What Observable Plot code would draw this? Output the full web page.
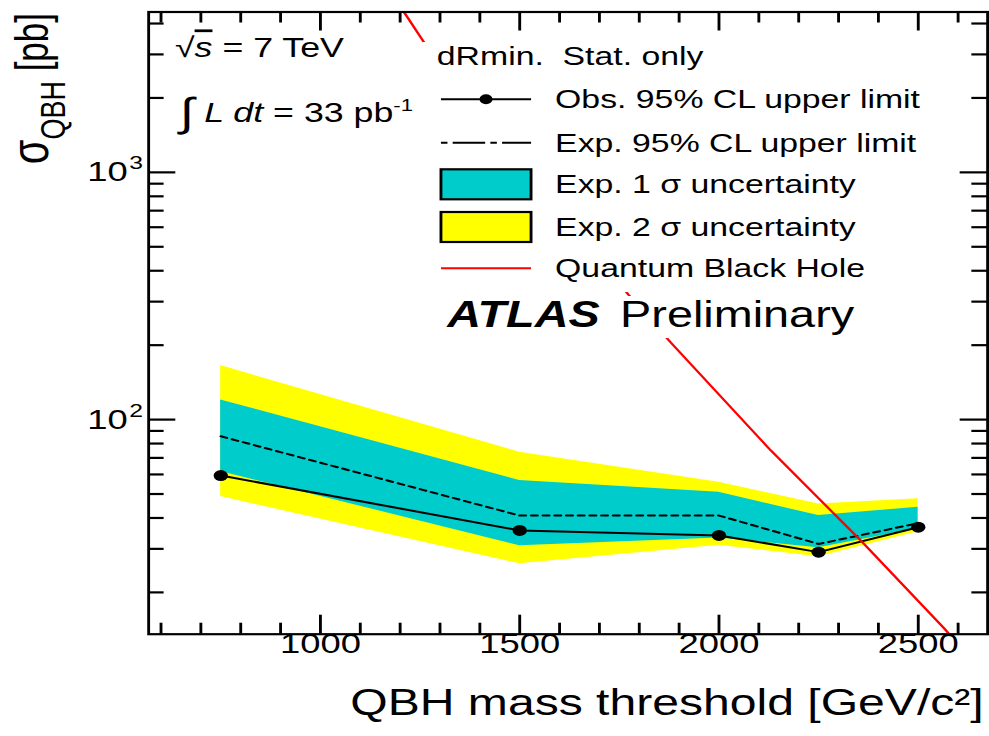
<!DOCTYPE html>
<html><head><meta charset="utf-8">
<script src="https://cdn.jsdelivr.net/npm/d3@7"></script>
<script src="https://cdn.jsdelivr.net/npm/@observablehq/plot@0.6"></script>
<style>
html,body{margin:0;padding:0;background:#fff;overflow:hidden;}
#chart{width:989px;height:736px;position:relative;overflow:hidden;}
#chart svg{transform:scale(1.3,1);transform-origin:0 0;display:block;max-width:none;}
</style></head><body><div id="chart"></div>
<script>
// ---- data ----
const massThresholds = [750, 1500, 2000, 2250, 2500];
const observedLimit  = [59.4, 35.6, 34.0, 29.1, 36.7];
const expectedLimit  = [85.6, 40.9, 40.9, 31.4, 38.1];
const exp1SigmaLow   = [61.6, 30.9, 33.2, 30.3, 36.2];
const exp1SigmaHigh  = [120.1, 56.7, 50.8, 40.9, 44.2];
const exp2SigmaLow   = [48.8, 26.1, 31.0, 27.9, 35.2];
const exp2SigmaHigh  = [165.4, 73.8, 55.8, 45.6, 47.8];

const qbhMass  = [1210, 1260, 1773, 1879, 2130, 2356, 2565, 2577];
const qbhSigma = [4440, 3355, 320, 205, 75, 32.4, 14.3, 13.6];

const xMajorTicks = [1000, 1500, 2000, 2500];
const xMinorTicks = [600, 700, 800, 900, 1100, 1200, 1300, 1400, 1600, 1700, 1800, 1900, 2100, 2200, 2300, 2400, 2600];
const yMajorTicks = [100, 1000];
const yMinorTicks = [20, 30, 40, 50, 60, 70, 80, 90, 200, 300, 400, 500, 600, 700, 800, 900, 2000, 3000, 4000];

const legendLabels = ["Obs. 95% CL upper limit", "Exp. 95% CL upper limit", "Exp. 1 \u03C3 uncertainty", "Exp. 2 \u03C3 uncertainty", "Quantum Black Hole"];

// ---- tables ----
const limits = massThresholds.map((m, i) => ({
  mass: m, obs: observedLimit[i], exp: expectedLimit[i],
  lo1: exp1SigmaLow[i], hi1: exp1SigmaHigh[i], lo2: exp2SigmaLow[i], hi2: exp2SigmaHigh[i]
}));
const qbh = qbhMass.map((m, i) => ({mass: m, sigma: qbhSigma[i]}));

// ---- layout (drawn narrow, then stretched horizontally like the reference) ----
const W = 761, H = 736;
const mL = 113.85, mR = 1.8, mT = 11.5, mB = 102.3;
const innerW = W - mL - mR, innerH = H - mT - mB;
const font = "Liberation Sans, Arial, Helvetica, sans-serif";
const lw = 2.2;

const svgNode = Plot.plot({
  width: W, height: H,
  marginLeft: mL, marginRight: mR, marginTop: mT, marginBottom: mB,
  style: {fontFamily: font, background: "white", color: "black"},
  x: {domain: [569, 2674], axis: null},
  y: {type: "log", domain: [13.55, 4453], axis: null},
  marks: [
    Plot.areaY(limits, {x: "mass", y1: "lo2", y2: "hi2", fill: "#ffff00"}),
    Plot.areaY(limits, {x: "mass", y1: "lo1", y2: "hi1", fill: "#00cccc"}),
    Plot.line(limits, {x: "mass", y: "exp", stroke: "black", strokeWidth: 2, strokeDasharray: "5,4"}),
    Plot.line(limits, {x: "mass", y: "obs", stroke: "black", strokeWidth: 2}),
    Plot.dot(limits, {x: "mass", y: "obs", r: 5.5, fill: "black"}),
    Plot.line(qbh, {x: "mass", y: "sigma", stroke: "#ff0000", strokeWidth: 2, clip: true}),
    // ticks (inside the frame, all four sides)
    Plot.ruleX(xMinorTicks, {x: d => d, insetTop: innerH - 11, stroke: "black", strokeWidth: lw}),
    Plot.ruleX(xMajorTicks, {x: d => d, insetTop: innerH - 19, stroke: "black", strokeWidth: lw}),
    Plot.ruleX(xMinorTicks, {x: d => d, insetBottom: innerH - 11, stroke: "black", strokeWidth: lw}),
    Plot.ruleX(xMajorTicks, {x: d => d, insetBottom: innerH - 19, stroke: "black", strokeWidth: lw}),
    Plot.ruleY(yMinorTicks, {y: d => d, insetRight: innerW - 12, stroke: "black", strokeWidth: lw}),
    Plot.ruleY(yMajorTicks, {y: d => d, insetRight: innerW - 21, stroke: "black", strokeWidth: lw}),
    Plot.ruleY(yMinorTicks, {y: d => d, insetLeft: innerW - 12, stroke: "black", strokeWidth: lw}),
    Plot.ruleY(yMajorTicks, {y: d => d, insetLeft: innerW - 21, stroke: "black", strokeWidth: lw}),
    Plot.frame({stroke: "black", strokeWidth: lw}),
    // tick labels
    Plot.text(xMajorTicks, {x: d => d, text: d => String(d), frameAnchor: "bottom", dy: 18.3, fontSize: 28, fill: "black"}),
    Plot.text(yMajorTicks, {y: d => d, text: () => "10", frameAnchor: "left", dx: -16, textAnchor: "end", fontSize: 28, fill: "black"}),
    Plot.text(yMajorTicks, {y: d => d, text: d => String(Math.round(Math.log10(d))), frameAnchor: "left", dx: -15, dy: -9, textAnchor: "start", fontSize: 19, fill: "black"}),
    // x axis title
    Plot.text(["QBH mass threshold [GeV/c\u00B2]"], {text: d => d, frameAnchor: "bottom-right", dx: -3, dy: 81, textAnchor: "end", fontSize: 37, fill: "black"})
  ]
});
document.getElementById("chart").appendChild(svgNode);

const svg = d3.select(svgNode);
const g = svg.append("g").attr("font-family", font).attr("fill", "black").attr("text-anchor", "start");

// y axis title
const yt = g.append("text").attr("transform", "translate(37,13) rotate(-90)").attr("text-anchor", "end");
yt.append("tspan").attr("font-size", 40).text("\u03C3");
yt.append("tspan").attr("font-size", 27).attr("dy", 13).text("QBH");
yt.append("tspan").attr("font-size", 35).attr("dy", -13).style("white-space", "pre").text(" [pb]");

// top-left annotations
const t1 = g.append("text").attr("x", 134.6).attr("y", 57).attr("font-size", 27.5).style("white-space", "pre");
t1.append("tspan").text("\u221A");
t1.append("tspan").attr("font-style", "italic").style("text-decoration", "overline").text("s");
t1.append("tspan").text(" = 7 TeV");
const t2 = g.append("text").attr("x", 138.5).attr("y", 121.7).attr("font-size", 27.5).style("white-space", "pre");
t2.append("tspan").attr("font-size", 40).attr("dy", 4).text("\u222B");
t2.append("tspan").attr("font-style", "italic").attr("dy", -4).text(" L dt");
t2.append("tspan").text(" = 33 pb");
t2.append("tspan").attr("font-size", 17).attr("dy", -11).text("-1");

// legend (opaque white boxes, as in the reference)
g.append("rect").attr("x", 325).attr("y", 42).attr("width", 396).attr("height", 250).attr("fill", "white");
g.append("rect").attr("x", 325).attr("y", 296).attr("width", 396).attr("height", 42).attr("fill", "white");
g.append("text").attr("x", 336).attr("y", 65).attr("font-size", 26).style("white-space", "pre").text("dRmin.  Stat. only");

const sx0 = 339.2, sx1 = 408.5, tx = 427;
const rowY = [99.3, 142.7, 184.3, 227, 268.3];
// obs
g.append("line").attr("x1", sx0).attr("x2", sx1).attr("y1", rowY[0]).attr("y2", rowY[0]).attr("stroke", "black").attr("stroke-width", 2);
g.append("circle").attr("cx", (sx0 + sx1) / 2).attr("cy", rowY[0]).attr("r", 5).attr("fill", "black");
// exp
g.append("line").attr("x1", sx0).attr("x2", sx1).attr("y1", rowY[1]).attr("y2", rowY[1]).attr("stroke", "black").attr("stroke-width", 2).attr("stroke-dasharray", "5,4,25,4");
// bands
g.append("rect").attr("x", sx0).attr("y", rowY[2] - 15).attr("width", sx1 - sx0).attr("height", 30).attr("fill", "#00cccc").attr("stroke", "black").attr("stroke-width", lw);
g.append("rect").attr("x", sx0).attr("y", rowY[3] - 15).attr("width", sx1 - sx0).attr("height", 30).attr("fill", "#ffff00").attr("stroke", "black").attr("stroke-width", lw);
// qbh
g.append("line").attr("x1", sx0).attr("x2", sx1).attr("y1", rowY[4]).attr("y2", rowY[4]).attr("stroke", "#ff0000").attr("stroke-width", 2);
legendLabels.forEach((lab, i) => {
  g.append("text").attr("x", tx).attr("y", rowY[i] + 9).attr("font-size", 26).text(lab);
});

// ATLAS label
const at = g.append("text").attr("x", 344).attr("y", 327).attr("font-size", 36).style("white-space", "pre");
at.append("tspan").attr("font-weight", "bold").attr("font-style", "italic").text("ATLAS");
at.append("tspan").attr("x", 477).text("Preliminary");
</script></body></html>
